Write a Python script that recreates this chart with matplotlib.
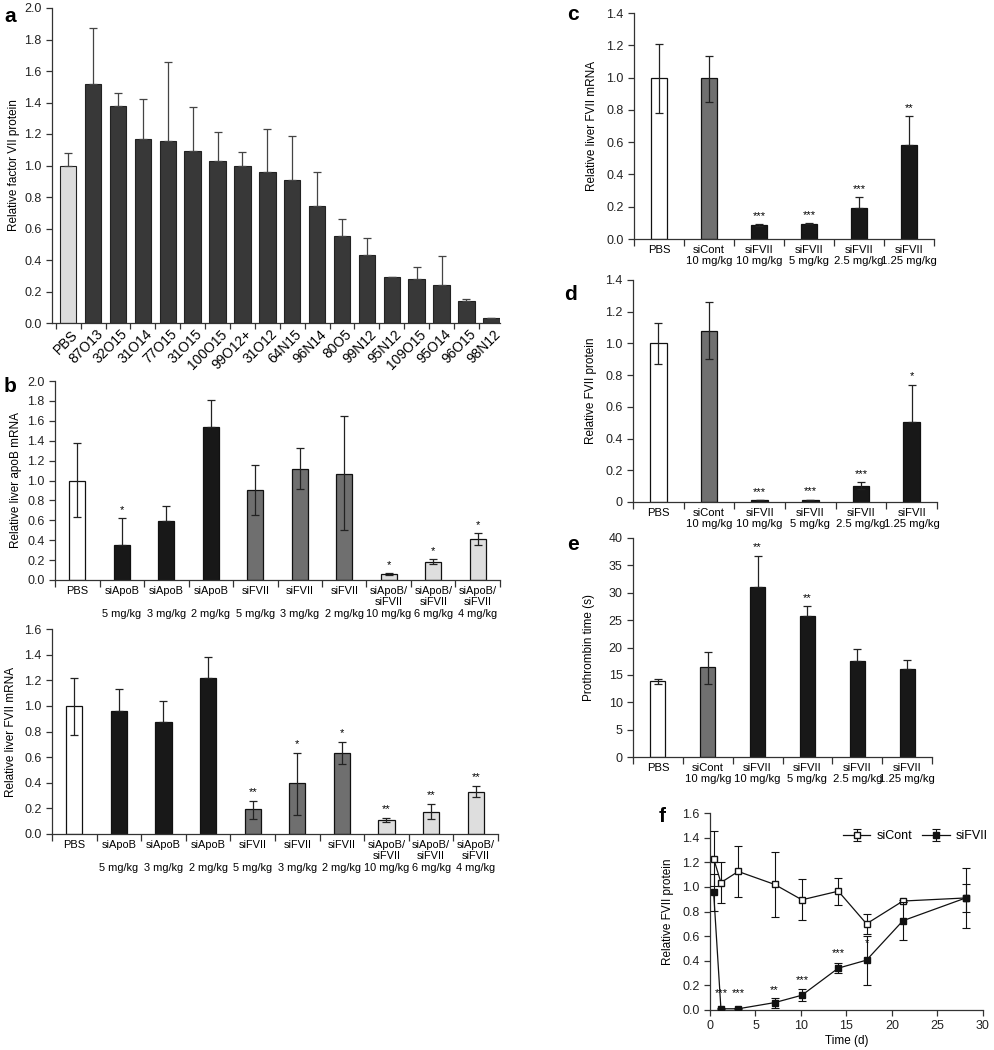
import numpy as np
import matplotlib
matplotlib.use('Agg')
import matplotlib.pyplot as plt

plt.rcParams['font.family'] = ['Liberation Sans', 'DejaVu Sans']

# ---- panel a: factor VII protein screen
a_labels = ['PBS', '87O13', '32O15', '31O14', '77O15', '31O15', '100O15', '99O12+', '31O12',
            '64N15', '96N14', '80O5', '99N12', '95N12', '109O15', '95O14', '96O15', '98N12']
a_vals = [1.00, 1.52, 1.38, 1.17, 1.155, 1.09, 1.03, 1.00, 0.96, 0.91, 0.745, 0.555, 0.43,
          0.29, 0.28, 0.24, 0.14, 0.03]
a_hi = [1.08, 1.87, 1.46, 1.42, 1.66, 1.37, 1.21, 1.085, 1.23, 1.19, 0.96, 0.66, 0.54,
        0.295, 0.355, 0.425, 0.155, 0.03]

# ---- panel b: apoB / FVII mRNA
b_labels = ['PBS', 'siApoB\n \n5 mg/kg', 'siApoB\n \n3 mg/kg', 'siApoB\n \n2 mg/kg',
            'siFVII\n \n5 mg/kg', 'siFVII\n \n3 mg/kg', 'siFVII\n \n2 mg/kg',
            'siApoB/\nsiFVII\n10 mg/kg', 'siApoB/\nsiFVII\n6 mg/kg', 'siApoB/\nsiFVII\n4 mg/kg']
b1_vals = [1.00, 0.355, 0.59, 1.54, 0.90, 1.12, 1.07, 0.06, 0.185, 0.41]
b1_lo = [0.63, 0.355, 0.59, 1.54, 0.65, 0.91, 0.50, 0.05, 0.16, 0.35]
b1_hi = [1.38, 0.62, 0.74, 1.81, 1.16, 1.33, 1.65, 0.07, 0.21, 0.47]
b1_stars = ['', '*', '', '', '', '', '', '*', '*', '*']
b2_vals = [1.00, 0.96, 0.875, 1.215, 0.195, 0.40, 0.635, 0.11, 0.175, 0.33]
b2_lo = [0.775, 0.96, 0.875, 1.215, 0.12, 0.15, 0.55, 0.095, 0.115, 0.29]
b2_hi = [1.22, 1.13, 1.035, 1.385, 0.26, 0.635, 0.72, 0.125, 0.235, 0.375]
b2_stars = ['', '', '', '', '**', '*', '*', '**', '**', '**']
b_colors = ['white', '#181818', '#181818', '#181818', '#6f6f6f', '#6f6f6f', '#6f6f6f',
            '#dedede', '#dedede', '#dedede']

# ---- panels c-e: dose response
dose_labels = ['PBS', 'siCont\n10 mg/kg', 'siFVII\n10 mg/kg', 'siFVII\n5 mg/kg',
               'siFVII\n2.5 mg/kg', 'siFVII\n1.25 mg/kg']
dose_colors = ['white', '#707070', '#181818', '#181818', '#181818', '#181818']
c_vals = [1.00, 1.00, 0.085, 0.095, 0.195, 0.585]
c_lo = [0.78, 0.85, 0.08, 0.09, 0.195, 0.585]
c_hi = [1.21, 1.135, 0.09, 0.10, 0.26, 0.76]
c_stars = ['', '', '***', '***', '***', '**']
d_vals = [1.00, 1.08, 0.012, 0.015, 0.10, 0.505]
d_lo = [0.87, 0.90, 0.012, 0.015, 0.08, 0.505]
d_hi = [1.13, 1.26, 0.012, 0.015, 0.125, 0.74]
d_stars = ['', '', '***', '***', '***', '*']
e_vals = [13.8, 16.4, 31.1, 25.7, 17.6, 16.1]
e_lo = [13.3, 13.3, 31.1, 25.7, 17.6, 16.1]
e_hi = [14.3, 19.2, 36.8, 27.6, 19.8, 17.7]
e_stars = ['', '', '**', '**', '', '']

# ---- panel f: time course
f_days = [0.4, 1.2, 3.1, 7.1, 10.1, 14.1, 17.2, 21.2, 28.1]
f_cont = [1.23, 1.035, 1.125, 1.02, 0.895, 0.965, 0.70, 0.885, 0.91]
f_cont_err = [0.22, 0.165, 0.21, 0.265, 0.165, 0.11, 0.08, 0.005, 0.11]
f_fvii = [0.955, 0.01, 0.01, 0.06, 0.12, 0.34, 0.405, 0.725, 0.91]
f_fvii_err = [0.15, 0.005, 0.005, 0.04, 0.047, 0.043, 0.2, 0.155, 0.24]
f_stars = ['', '***', '***', '**', '***', '***', '*', '', '']
f_star_y = [0, 0.10, 0.10, 0.12, 0.20, 0.42, 0.50, 0, 0]

W, H = 995, 1050
TICK_FS = 9
fig = plt.figure(figsize=(W / 100, H / 100), dpi=100)


def box(l, t, r, b):
    return [l / W, 1 - b / H, (r - l) / W, (b - t) / H]


def style(ax, fs=TICK_FS):
    for s in ['top', 'right']:
        ax.spines[s].set_visible(False)
    for s in ['left', 'bottom']:
        ax.spines[s].set_linewidth(0.9)
        ax.spines[s].set_color('#333333')
    ax.tick_params(axis='y', direction='out', length=4, width=0.9, labelsize=fs, colors='#333333',
                   labelcolor='#222222')


def bars(ax, vals, lo, hi, colors, width, labels, stars, lab_fs=7.9, star_off=0.02):
    x = np.arange(len(vals))
    vals = np.array(vals)
    ax.bar(x, vals, width, color=colors, edgecolor='#111111', linewidth=0.9, zorder=2)
    ax.errorbar(x, vals, yerr=[vals - np.array(lo), np.array(hi) - vals], fmt='none',
                ecolor='#222222', elinewidth=0.9, capsize=3, capthick=0.9, zorder=3)
    for xi, h, s in zip(x, hi, stars):
        if s:
            ax.text(xi, h + star_off, s, ha='center', va='bottom', fontsize=8)
    ax.set_xlim(-0.5, len(vals) - 0.5)
    ax.set_xticks(np.arange(len(vals) + 1) - 0.5)
    ax.set_xticklabels([])
    ax.tick_params(axis='x', which='major', direction='out', length=5, width=0.9, colors='#333333')
    ax.set_xticks(x, minor=True)
    ax.set_xticklabels(labels, minor=True, fontsize=lab_fs, linespacing=1.2)
    ax.tick_params(axis='x', which='minor', length=0, pad=4)


# panel a
ax = fig.add_axes(box(52, 8, 500, 323))
style(ax)
xa = np.arange(len(a_vals))
a_colors = ['#dcdcdc'] + ['#383838'] * (len(a_vals) - 1)
ax.bar(xa, a_vals, 0.66, color=a_colors, edgecolor='#222222', linewidth=0.8, zorder=2)
ax.errorbar(xa, a_vals, yerr=[np.zeros(len(a_vals)), np.array(a_hi) - np.array(a_vals)],
            fmt='none', ecolor='#444444', elinewidth=0.9, capsize=3, capthick=0.9, zorder=3)
ax.set_xlim(-0.65, 17.35)
ax.set_ylim(0, 2.0)
ax.set_yticks(np.arange(0, 2.01, 0.2))
ax.set_yticklabels(['%.1f' % v for v in np.arange(0, 2.01, 0.2)])
ax.set_xticks(xa - 0.5)
ax.set_xticklabels([])
ax.tick_params(axis='x', which='major', direction='out', length=4, width=0.9, colors='#333333')
ax.set_xticks(xa + 0.1, minor=True)
ax.set_xticklabels(a_labels, minor=True, rotation=45, ha='right', rotation_mode='anchor', fontsize=10)
ax.tick_params(axis='x', which='minor', length=0, pad=3)
ax.set_ylabel('Relative factor VII protein', fontsize=8.5, labelpad=3)

# panel b top
ax = fig.add_axes(box(55, 381, 500, 580))
style(ax)
bars(ax, b1_vals, b1_lo, b1_hi, b_colors, 0.36, b_labels, b1_stars, star_off=0.03)
ax.set_ylim(0, 2.0)
ax.set_yticks(np.arange(0, 2.01, 0.2))
ax.set_yticklabels(['%.1f' % v for v in np.arange(0, 2.01, 0.2)])
ax.set_ylabel('Relative liver apoB mRNA', fontsize=8.5, labelpad=4)

# panel b bottom
ax = fig.add_axes(box(52, 629, 498, 834))
style(ax)
bars(ax, b2_vals, b2_lo, b2_hi, b_colors, 0.36, b_labels, b2_stars, star_off=0.03)
ax.set_ylim(0, 1.6)
ax.set_yticks(np.arange(0, 1.61, 0.2))
ax.set_yticklabels(['%.1f' % v for v in np.arange(0, 1.61, 0.2)])
ax.set_ylabel('Relative liver FVII mRNA', fontsize=8.5, labelpad=5)

# panel c
ax = fig.add_axes(box(634, 13, 934, 239))
style(ax)
bars(ax, c_vals, c_lo, c_hi, dose_colors, 0.33, dose_labels, c_stars, lab_fs=8.1, star_off=0.02)
ax.set_ylim(0, 1.4)
ax.set_yticks(np.arange(0, 1.41, 0.2))
ax.set_yticklabels(['%.1f' % v for v in np.arange(0, 1.41, 0.2)])
ax.set_ylabel('Relative liver FVII mRNA', fontsize=8.5, labelpad=6)

# panel d
ax = fig.add_axes(box(633, 280, 937, 502))
style(ax)
bars(ax, d_vals, d_lo, d_hi, dose_colors, 0.33, dose_labels, d_stars, lab_fs=8.1, star_off=0.02)
ax.set_ylim(0, 1.4)
ax.set_yticks(np.arange(0, 1.41, 0.2))
ax.set_yticklabels(['0'] + ['%.1f' % v for v in np.arange(0.2, 1.41, 0.2)])
ax.set_ylabel('Relative FVII protein', fontsize=8.5, labelpad=6)

# panel e
ax = fig.add_axes(box(633, 538, 932, 757))
style(ax)
bars(ax, e_vals, e_lo, e_hi, dose_colors, 0.3, dose_labels, e_stars, lab_fs=8.1, star_off=0.6)
ax.set_ylim(0, 40)
ax.set_yticks(np.arange(0, 41, 5))
ax.set_ylabel('Prothrombin time (s)', fontsize=8.5, labelpad=10)

# panel f
ax = fig.add_axes(box(710, 813, 983, 1010))
style(ax)
ax.tick_params(axis='x', direction='out', length=4, width=0.9, labelsize=TICK_FS, colors='#333333',
               labelcolor='#222222')
ax.errorbar(f_days, f_cont, yerr=f_cont_err, fmt='-s', color='#111111', mfc='white', mec='#111111',
            ms=5, lw=0.9, elinewidth=0.8, capsize=3, capthick=0.8, label='siCont', zorder=3)
ax.errorbar(f_days, f_fvii, yerr=f_fvii_err, fmt='-s', color='#111111', mfc='#111111', mec='#111111',
            ms=5, lw=0.9, elinewidth=0.8, capsize=3, capthick=0.8, label='siFVII', zorder=4)
for t, yy, s in zip(f_days, f_star_y, f_stars):
    if s:
        ax.text(t, yy, s, ha='center', va='bottom', fontsize=8)
ax.set_xlim(0, 30)
ax.set_ylim(0, 1.6)
ax.set_xticks(np.arange(0, 31, 5))
ax.set_yticks(np.arange(0, 1.61, 0.2))
ax.set_yticklabels(['%.1f' % v for v in np.arange(0, 1.61, 0.2)])
ax.set_xlabel('Time (d)', fontsize=8.5, labelpad=2)
ax.set_ylabel('Relative FVII protein', fontsize=8.5, labelpad=6)
ax.legend(loc='upper right', bbox_to_anchor=(1.06, 0.97), ncol=2, frameon=False, fontsize=9,
          handlelength=2.2, columnspacing=0.8, handletextpad=0.5)

# panel letters
for lab, px, py in [('a', 10, 16), ('b', 10, 386), ('c', 573, 14), ('d', 571, 294),
                    ('e', 573, 544), ('f', 662, 817)]:
    fig.text(px / W, 1 - py / H, lab, fontsize=15, fontweight='bold', ha='center', va='center')

fig.savefig('out.png', dpi=100)
